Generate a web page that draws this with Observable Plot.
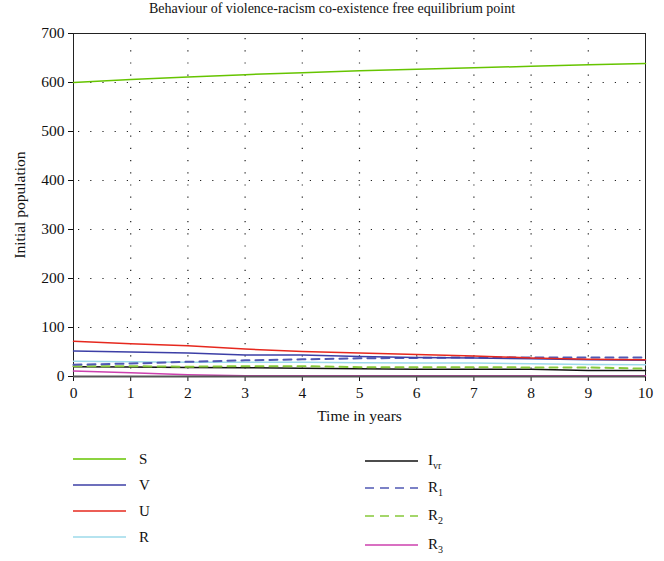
<!DOCTYPE html>
<html>
<head>
<meta charset="utf-8">
<script src="https://cdn.jsdelivr.net/npm/d3@7"></script>
<script src="https://cdn.jsdelivr.net/npm/@observablehq/plot@0.6"></script>
<style>
  body { margin: 0; background: #fff; font-family: "Liberation Serif", "DejaVu Serif", serif; }
  #wrap { position: relative; width: 664px; height: 561px; }
  #title { position: absolute; left: 0; top: 1px; width: 664px; text-align: center; font-size: 14px; color: #111; }
  #chart { position: absolute; left: 0; top: 20px; }
  #chart svg { font-family: "Liberation Serif", "DejaVu Serif", serif !important; }
  #chart svg text { font-family: "Liberation Serif", "DejaVu Serif", serif !important; font-size: 14.5px !important; fill: #111; }
  #chart svg g[aria-label$="label"] text { font-size: 15.5px !important; }
  .leg { position: absolute; font-size: 15px; color: #111; display: flex; align-items: center; font-family: "Liberation Serif", serif; }
  .leg svg { margin-right: 13px; }
  sub { font-size: 10px; }
</style>
</head>
<body>
<div id="wrap">
  <div id="title">Behaviour of violence-racism co-existence free equilibrium point</div>
  <div id="chart"></div>
</div>
<script>
const time = [0, 1, 2, 3, 4, 5, 6, 7, 8, 9, 10];
const S   = [600, 606, 611, 616, 620, 624, 627, 630, 633, 636, 639];
const V   = [52, 50, 48, 44, 44, 41, 39, 38, 36, 34, 33];
const U   = [72, 67, 63, 56, 51, 48, 45, 42, 38, 35, 34];
const R   = [31, 30, 29, 29, 29, 28, 27.5, 27.5, 26, 24.5, 24];
const Ivr = [20, 19.5, 18.5, 18, 17, 16, 15, 15, 15, 12, 12];
const R1  = [24, 26.5, 30, 33, 35, 37, 38, 39, 39, 39, 39];
const R2  = [21, 21, 20, 21, 21, 19, 19, 19, 18.5, 18.5, 16];
const R3  = [11, 7.5, 3.5, 1.5, 1.5, 1.5, 1.5, 1.5, 1.5, 1.5, 1.5];
const xTicks = [0, 1, 2, 3, 4, 5, 6, 7, 8, 9, 10];
const yTicks = [0, 100, 200, 300, 400, 500, 600, 700];

const seriesDefs = [
  {key: "S", label: "S", values: S, color: "#66c400", dash: null},
  {key: "V", label: "V", values: V, color: "#3c3fa6", dash: null},
  {key: "U", label: "U", values: U, color: "#e6281e", dash: null},
  {key: "R", label: "R", values: R, color: "#9cdaea", dash: null},
  {key: "Ivr", label: "I<sub>vr</sub>", values: Ivr, color: "#111111", dash: null},
  {key: "R1", label: "R<sub>1</sub>", values: R1, color: "#5058b4", dash: "8,6"},
  {key: "R2", label: "R<sub>2</sub>", values: R2, color: "#86c93a", dash: "8,6"},
  {key: "R3", label: "R<sub>3</sub>", values: R3, color: "#cc40ae", dash: null}
];

const drawOrder = ["R", "Ivr", "R2", "R1", "V", "U", "R3", "S"];
const lineMarks = drawOrder.map(k => {
  const s = seriesDefs.find(d => d.key === k);
  const data = time.map((t, i) => ({t, v: s.values[i]}));
  return Plot.line(data, {x: "t", y: "v", stroke: s.color, strokeWidth: s.dash ? 2 : 1.5,
    strokeDasharray: s.dash || undefined});
});

const chart = Plot.plot({
  width: 664,
  height: 410,
  marginTop: 13,
  marginBottom: 54,
  marginLeft: 73,
  marginRight: 19,
  style: {fontFamily: "'Liberation Serif', serif", fontSize: "14.5px", color: "#111", background: "#fff"},
  x: {domain: [0, 10]},
  y: {domain: [0, 700]},
  marks: [
    Plot.ruleX(xTicks.slice(1, -1), {stroke: "#222", strokeWidth: 1.2, strokeDasharray: "1.2,11", strokeDashoffset: -5}),
    Plot.ruleY(yTicks.slice(1, -1), {stroke: "#222", strokeWidth: 1.2, strokeDasharray: "1.2,11", strokeDashoffset: -5}),
    Plot.frame({stroke: "#222", strokeWidth: 1}),
    Plot.axisX({ticks: xTicks, tickSize: 5, tickPadding: 5, label: "Time in years", labelAnchor: "center", labelArrow: "none", labelOffset: 44}),
    Plot.axisY({ticks: yTicks, tickSize: 5, tickPadding: 4, label: "Initial population", labelAnchor: "center", labelArrow: "none", labelOffset: 60}),
    ...lineMarks,
    Plot.ruleY([0], {stroke: "#555", strokeWidth: 2})
  ]
});
document.getElementById("chart").appendChild(chart);

// legend
const wrap = document.getElementById("wrap");
const leftRows = [459, 485, 511, 537];
const rightRows = [461, 488, 516, 545];
seriesDefs.forEach((s, i) => {
  const left = i < 4;
  const el = document.createElement("div");
  el.className = "leg";
  const y = left ? leftRows[i] : rightRows[i - 4];
  el.style.left = (left ? 73 : 365) + "px";
  el.style.top = (y - 10) + "px";
  el.style.height = "20px";
  const w = 53;
  el.innerHTML = `<svg width="${w}" height="6"><line x1="0" x2="${w}" y1="3" y2="3" stroke="${s.color}" stroke-width="${s.dash ? 1.5 : 1.3}" ${s.dash ? `stroke-dasharray="9,6"` : ""}/></svg><span>${s.label}</span>`;
  if (!left) el.querySelector("svg").style.marginRight = "10px";
  wrap.appendChild(el);
});
</script>
</body>
</html>
